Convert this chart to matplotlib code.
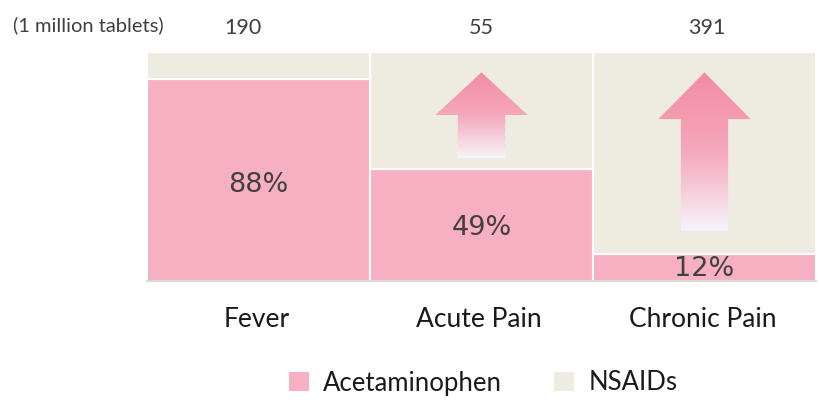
import matplotlib
matplotlib.use("Agg")
import matplotlib.pyplot as plt
import numpy as np
from matplotlib.patches import Polygon, Patch
from matplotlib.colors import LinearSegmentedColormap

categories = ["Fever", "Acute Pain", "Chronic Pain"]
totals = ["190", "55", "391"]
acetaminophen = [88, 49, 12]
nsaids = [100 - v for v in acetaminophen]
unit_label = "(1 million tablets)"

PINK = "#F7B0C2"
BEIGE = "#EEEBE0"
TXT = "#404040"

fig = plt.figure(figsize=(8.2, 4.04), dpi=100)
ax = fig.add_axes([147/820, (404-281)/404, (816-147)/820, (281-52)/404])

x = np.arange(len(categories))
ax.bar(x, acetaminophen, width=1.0, color=PINK, edgecolor="white", linewidth=1.5, label="Acetaminophen")
ax.bar(x, nsaids, width=1.0, bottom=acetaminophen, color=BEIGE, edgecolor="white", linewidth=1.5, label="NSAIDs")
ax.set_xlim(-0.5, len(categories) - 0.5)
ax.set_ylim(0, 100)
for s in ["top", "right", "left"]:
    ax.spines[s].set_visible(False)
ax.spines["bottom"].set_color("#D9D9D9")
ax.spines["bottom"].set_linewidth(1.5)
ax.set_yticks([])
ax.set_xticks([])

# percent labels
pct_y = [42, 23, 5.2]
for xi, v, py in zip(x, acetaminophen, pct_y):
    ax.text(xi, py, f"{v}%", ha="center", va="center", fontsize=19.5,
            color=TXT, family="DejaVu Sans")

# category labels
for xi, c in zip(x, categories):
    ax.text(xi - 0.01, -17, c, ha="center", va="center", fontsize=19, color="#1a1a1a",
            family="Lato", clip_on=False)

# totals on top
total_dx = [-0.07, 0.0, 0.01]
for xi, t, dx in zip(x, totals, total_dx):
    ax.text(xi + dx, 110.5, t, ha="center", va="center", fontsize=15.5, color=TXT,
            family="Lato", clip_on=False)
fig.text(13/820, (404-25)/404, unit_label, ha="left", va="center", fontsize=14.5,
         color=TXT, family="Lato")

# gradient arrows (decorations)
cmap = LinearSegmentedColormap.from_list("arr", ["#F7F4FA", "#F5A8BC", "#F38BA5"])
arrows = [(1, 53.6, 72.5, 91.1), (2, 22.0, 70.7, 91.1)]
hw, sw = 0.207, 0.106
for cx, yb, yh, yt in arrows:
    pts = [(cx - sw, yb), (cx + sw, yb), (cx + sw, yh), (cx + hw, yh),
           (cx, yt), (cx - hw, yh), (cx - sw, yh)]
    poly = Polygon(pts, closed=True, facecolor="none", edgecolor="none")
    ax.add_patch(poly)
    grad = np.linspace(0, 1, 256).reshape(-1, 1)
    im = ax.imshow(grad, extent=[cx - hw, cx + hw, yb, yt], origin="lower",
                   cmap=cmap, aspect="auto", zorder=3)
    im.set_clip_path(poly)
ax.set_xlim(-0.5, len(categories) - 0.5)
ax.set_ylim(0, 100)

handles = [Patch(facecolor=PINK, label="Acetaminophen"),
           Patch(facecolor=BEIGE, label="NSAIDs")]
fig.legend(handles=handles, loc="center", bbox_to_anchor=(483/820, (404-383)/404),
           ncol=2, frameon=False, prop={"family": "Lato", "size": 18.5},
           handlelength=0.8, handleheight=0.8, handletextpad=0.55, columnspacing=2.0,
           labelcolor="#1a1a1a")

fig.savefig("out.png", dpi=100)
